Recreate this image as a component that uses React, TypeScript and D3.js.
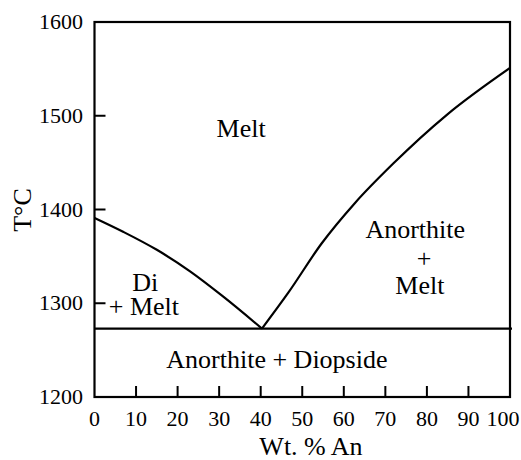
import { useRef, useEffect } from "react";
import * as d3 from "d3";

const xTicks = [0, 10, 20, 30, 40, 50, 60, 70, 80, 90, 100];
const yTicks = [1200, 1300, 1400, 1500, 1600];
const eutecticT = 1273;

// liquidus curves: [wt% An, T °C]
const diLiquidus: [number, number][] = [
  [0, 1391],
  [7, 1376],
  [15, 1357],
  [23, 1334],
  [31, 1307],
  [40.3, 1273],
];
const anLiquidus: [number, number][] = [
  [40.3, 1273],
  [46.6, 1311],
  [54.7, 1364],
  [62.7, 1407],
  [71.9, 1449],
  [84.8, 1501],
  [100, 1551],
];

// field labels: [wt% An, T °C, text]
const fieldLabels: [number, number, string][] = [
  [35.3, 1477, "Melt"],
  [12.2, 1313, "Di"],
  [11.9, 1288, "+ Melt"],
  [77.2, 1370, "Anorthite"],
  [79.3, 1339, "+"],
  [78.3, 1310, "Melt"],
  [43.9, 1231, "Anorthite + Diopside"],
];

export default function App() {
  const svgRef = useRef<SVGSVGElement>(null);
  const width = 521;
  const height = 460;

  useEffect(() => {
    const svg = d3.select(svgRef.current);
    svg.selectAll("*").remove();

    const font = "Liberation Serif, Tinos, Times New Roman, DejaVu Serif, serif";
    const x = d3.scaleLinear().domain([0, 100]).range([94.5, 510]);
    const y = d3.scaleLinear().domain([1200, 1600]).range([397, 22]);

    const g = svg.append("g");

    const label = (sel: d3.Selection<any, any, any, any>, size: number) =>
      sel.style("font-family", font).style("font-size", `${size}px`).attr("fill", "#000");

    // frame
    g.append("rect")
      .attr("x", x(0))
      .attr("y", y(1600))
      .attr("width", x(100) - x(0))
      .attr("height", y(1200) - y(1600))
      .attr("fill", "none")
      .attr("stroke", "#000")
      .attr("stroke-width", 2.2);

    // inward ticks
    g.selectAll(".xt")
      .data(xTicks.slice(1, -1))
      .enter()
      .append("line")
      .attr("x1", (d) => x(d))
      .attr("x2", (d) => x(d))
      .attr("y1", y(1200))
      .attr("y2", y(1200) - 11)
      .attr("stroke", "#000")
      .attr("stroke-width", 2);
    g.selectAll(".yt")
      .data(yTicks.slice(1, -1))
      .enter()
      .append("line")
      .attr("x1", x(0))
      .attr("x2", x(0) + 11)
      .attr("y1", (d) => y(d))
      .attr("y2", (d) => y(d))
      .attr("stroke", "#000")
      .attr("stroke-width", 2);

    // tick labels
    label(
      g.selectAll(".xl")
        .data(xTicks)
        .enter()
        .append("text")
        .attr("x", (d) => Math.min(x(d), width - 18))
        .attr("y", 426)
        .attr("text-anchor", "middle")
        .text((d) => d),
      22
    );
    label(
      g.selectAll(".yl")
        .data(yTicks)
        .enter()
        .append("text")
        .attr("x", 83)
        .attr("y", (d) => y(d) + 7)
        .attr("text-anchor", "end")
        .text((d) => d),
      22
    );

    // axis titles
    label(
      g.append("text")
        .attr("x", 311)
        .attr("y", 455)
        .attr("text-anchor", "middle")
        .text("Wt. % An"),
      26
    );
    label(
      g.append("text")
        .attr("transform", "translate(31, 210) rotate(-90)")
        .attr("text-anchor", "middle")
        .text("T°C"),
      26
    );

    // eutectic isotherm
    g.append("line")
      .attr("x1", x(0))
      .attr("x2", x(100) + 2)
      .attr("y1", y(eutecticT))
      .attr("y2", y(eutecticT))
      .attr("stroke", "#000")
      .attr("stroke-width", 2.2);

    // liquidus curves
    const line = d3
      .line<[number, number]>()
      .x((d) => x(d[0]))
      .y((d) => y(d[1]))
      .curve(d3.curveMonotoneX);
    [diLiquidus, anLiquidus].forEach((pts) => {
      g.append("path")
        .attr("d", line(pts))
        .attr("fill", "none")
        .attr("stroke", "#000")
        .attr("stroke-width", 2.2);
    });

    // field labels
    label(
      g.selectAll(".fl")
        .data(fieldLabels)
        .enter()
        .append("text")
        .attr("x", (d) => x(d[0]))
        .attr("y", (d) => y(d[1]))
        .attr("text-anchor", "middle")
        .text((d) => d[2]),
      26
    );
  }, []);

  return (
    <svg
      ref={svgRef}
      width={width}
      height={height}
      style={{ position: "absolute", left: 0, top: 0, background: "#fff" }}
    />
  );
}
